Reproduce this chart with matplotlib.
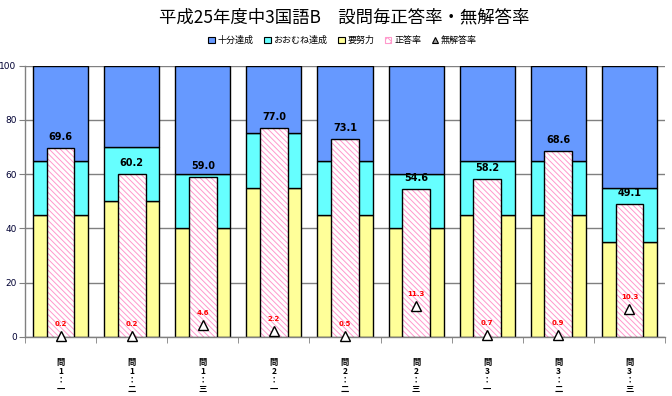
import matplotlib
matplotlib.use("Agg")
import matplotlib.pyplot as plt
from matplotlib.patches import Patch
from matplotlib.lines import Line2D
import numpy as np

plt.rcParams['font.family'] = ['Noto Sans CJK JP', 'DejaVu Sans']

categories = ["問\n1\n：\n一", "問\n1\n：\n二", "問\n1\n：\n三",
              "問\n2\n：\n一", "問\n2\n：\n二", "問\n2\n：\n三",
              "問\n3\n：\n一", "問\n3\n：\n二", "問\n3\n：\n三"]
effort = [45, 50, 40, 55, 45, 40, 45, 45, 35]        # 要努力
mostly = [20, 20, 20, 20, 20, 20, 20, 20, 20]        # おおむね達成
full = [35, 30, 40, 25, 35, 40, 35, 35, 45]          # 十分達成
correct = [69.6, 60.2, 59.0, 77.0, 73.1, 54.6, 58.2, 68.6, 49.1]   # 正答率
noans = [0.2, 0.2, 4.6, 2.2, 0.5, 11.3, 0.7, 0.9, 10.3]            # 無解答率
yticks = [0, 20, 40, 60, 80, 100]

c_full = "#6699FF"
c_mostly = "#66FFFF"
c_effort = "#FFFF99"
c_pink = "#FF99CC"

fig = plt.figure(figsize=(6.72, 3.96), dpi=100)
ax = fig.add_axes([25/672, 59/396, 640/672, 271.5/396])

x = np.arange(len(categories))
wide = 0.775
narrow = 0.39
ax.bar(x, effort, wide, color=c_effort, edgecolor="black", linewidth=1, zorder=2)
ax.bar(x, mostly, wide, bottom=effort, color=c_mostly, edgecolor="black", linewidth=1, zorder=2)
bot2 = np.array(effort) + np.array(mostly)
ax.bar(x, full, wide, bottom=bot2, color=c_full, edgecolor="black", linewidth=1, zorder=2)

# correct-rate bars: hatched pink, black outline
plt.rcParams['hatch.linewidth'] = 0.7
ax.bar(x, correct, narrow, color="white", edgecolor=c_pink, hatch="\\\\\\\\\\\\", linewidth=0, zorder=3)
ax.bar(x, correct, narrow, fill=False, edgecolor="black", linewidth=1, zorder=4)

# no-answer markers
ax.plot(x, noans, linestyle="none", marker="^", markersize=7.5, markerfacecolor="white",
        markeredgecolor="black", markeredgewidth=1, zorder=5, clip_on=False)

for xi, v in zip(x, correct):
    ax.text(xi, v + 2.2, f"{v:.1f}", ha="center", va="bottom", fontsize=7,
            fontweight="bold", color="#000000", family=["DejaVu Sans"], zorder=6)
for xi, v in zip(x, noans):
    ax.text(xi, v + 3.3, f"{v:.1f}", ha="center", va="bottom", fontsize=5,
            fontweight="bold", color="#FF0000", family=["DejaVu Sans"], zorder=6)

ax.set_xlim(-0.5, len(categories) - 0.5)
ax.set_ylim(0, 100)
ax.set_yticks(yticks)
ax.set_yticklabels([str(t) for t in yticks], fontsize=6.5, family=["DejaVu Sans"],
                   color="#000033")
ax.yaxis.grid(True, color="#808080", linewidth=1, zorder=0)
ax.set_axisbelow(True)

ax.set_xticks(x)
ax.set_xticklabels(categories, fontsize=6, linespacing=1.0, fontweight="bold")
ax.tick_params(axis="x", which="major", length=0, pad=15)
ax.set_xticks(np.arange(-0.5, len(categories) + 0.5, 1), minor=True)
ax.tick_params(axis="x", which="minor", length=4, color="#808080", direction="out")
ax.tick_params(axis="y", length=4, color="#808080", pad=2)

for s in ["top", "right"]:
    ax.spines[s].set_visible(False)
for s in ["left", "bottom"]:
    ax.spines[s].set_color("#808080")
    ax.spines[s].set_linewidth(1)

fig.text(0.512, 0.955, "平成25年度中3国語B　設問毎正答率・無解答率", ha="center", va="center",
         fontsize=12.5)

handles = [
    Patch(facecolor=c_full, edgecolor="black", linewidth=0.8),
    Patch(facecolor=c_mostly, edgecolor="black", linewidth=0.8),
    Patch(facecolor=c_effort, edgecolor="black", linewidth=0.8),
    Patch(facecolor="white", edgecolor=c_pink, hatch="xxxx", linewidth=0.8),
    Line2D([], [], linestyle="none", marker="^", markersize=5, markerfacecolor="#A0A0A0",
           markeredgecolor="black", markeredgewidth=0.8),
]
labels = ["十分達成", "おおむね達成", "要努力", "正答率", "無解答率"]
fig.legend(handles, labels, loc="center", bbox_to_anchor=(0.51, 0.898), ncol=5,
           fontsize=6.5, frameon=False, handlelength=0.7, handleheight=0.7,
           handletextpad=0.3, columnspacing=1.2, borderaxespad=0)

fig.savefig("out.png", dpi=100)
